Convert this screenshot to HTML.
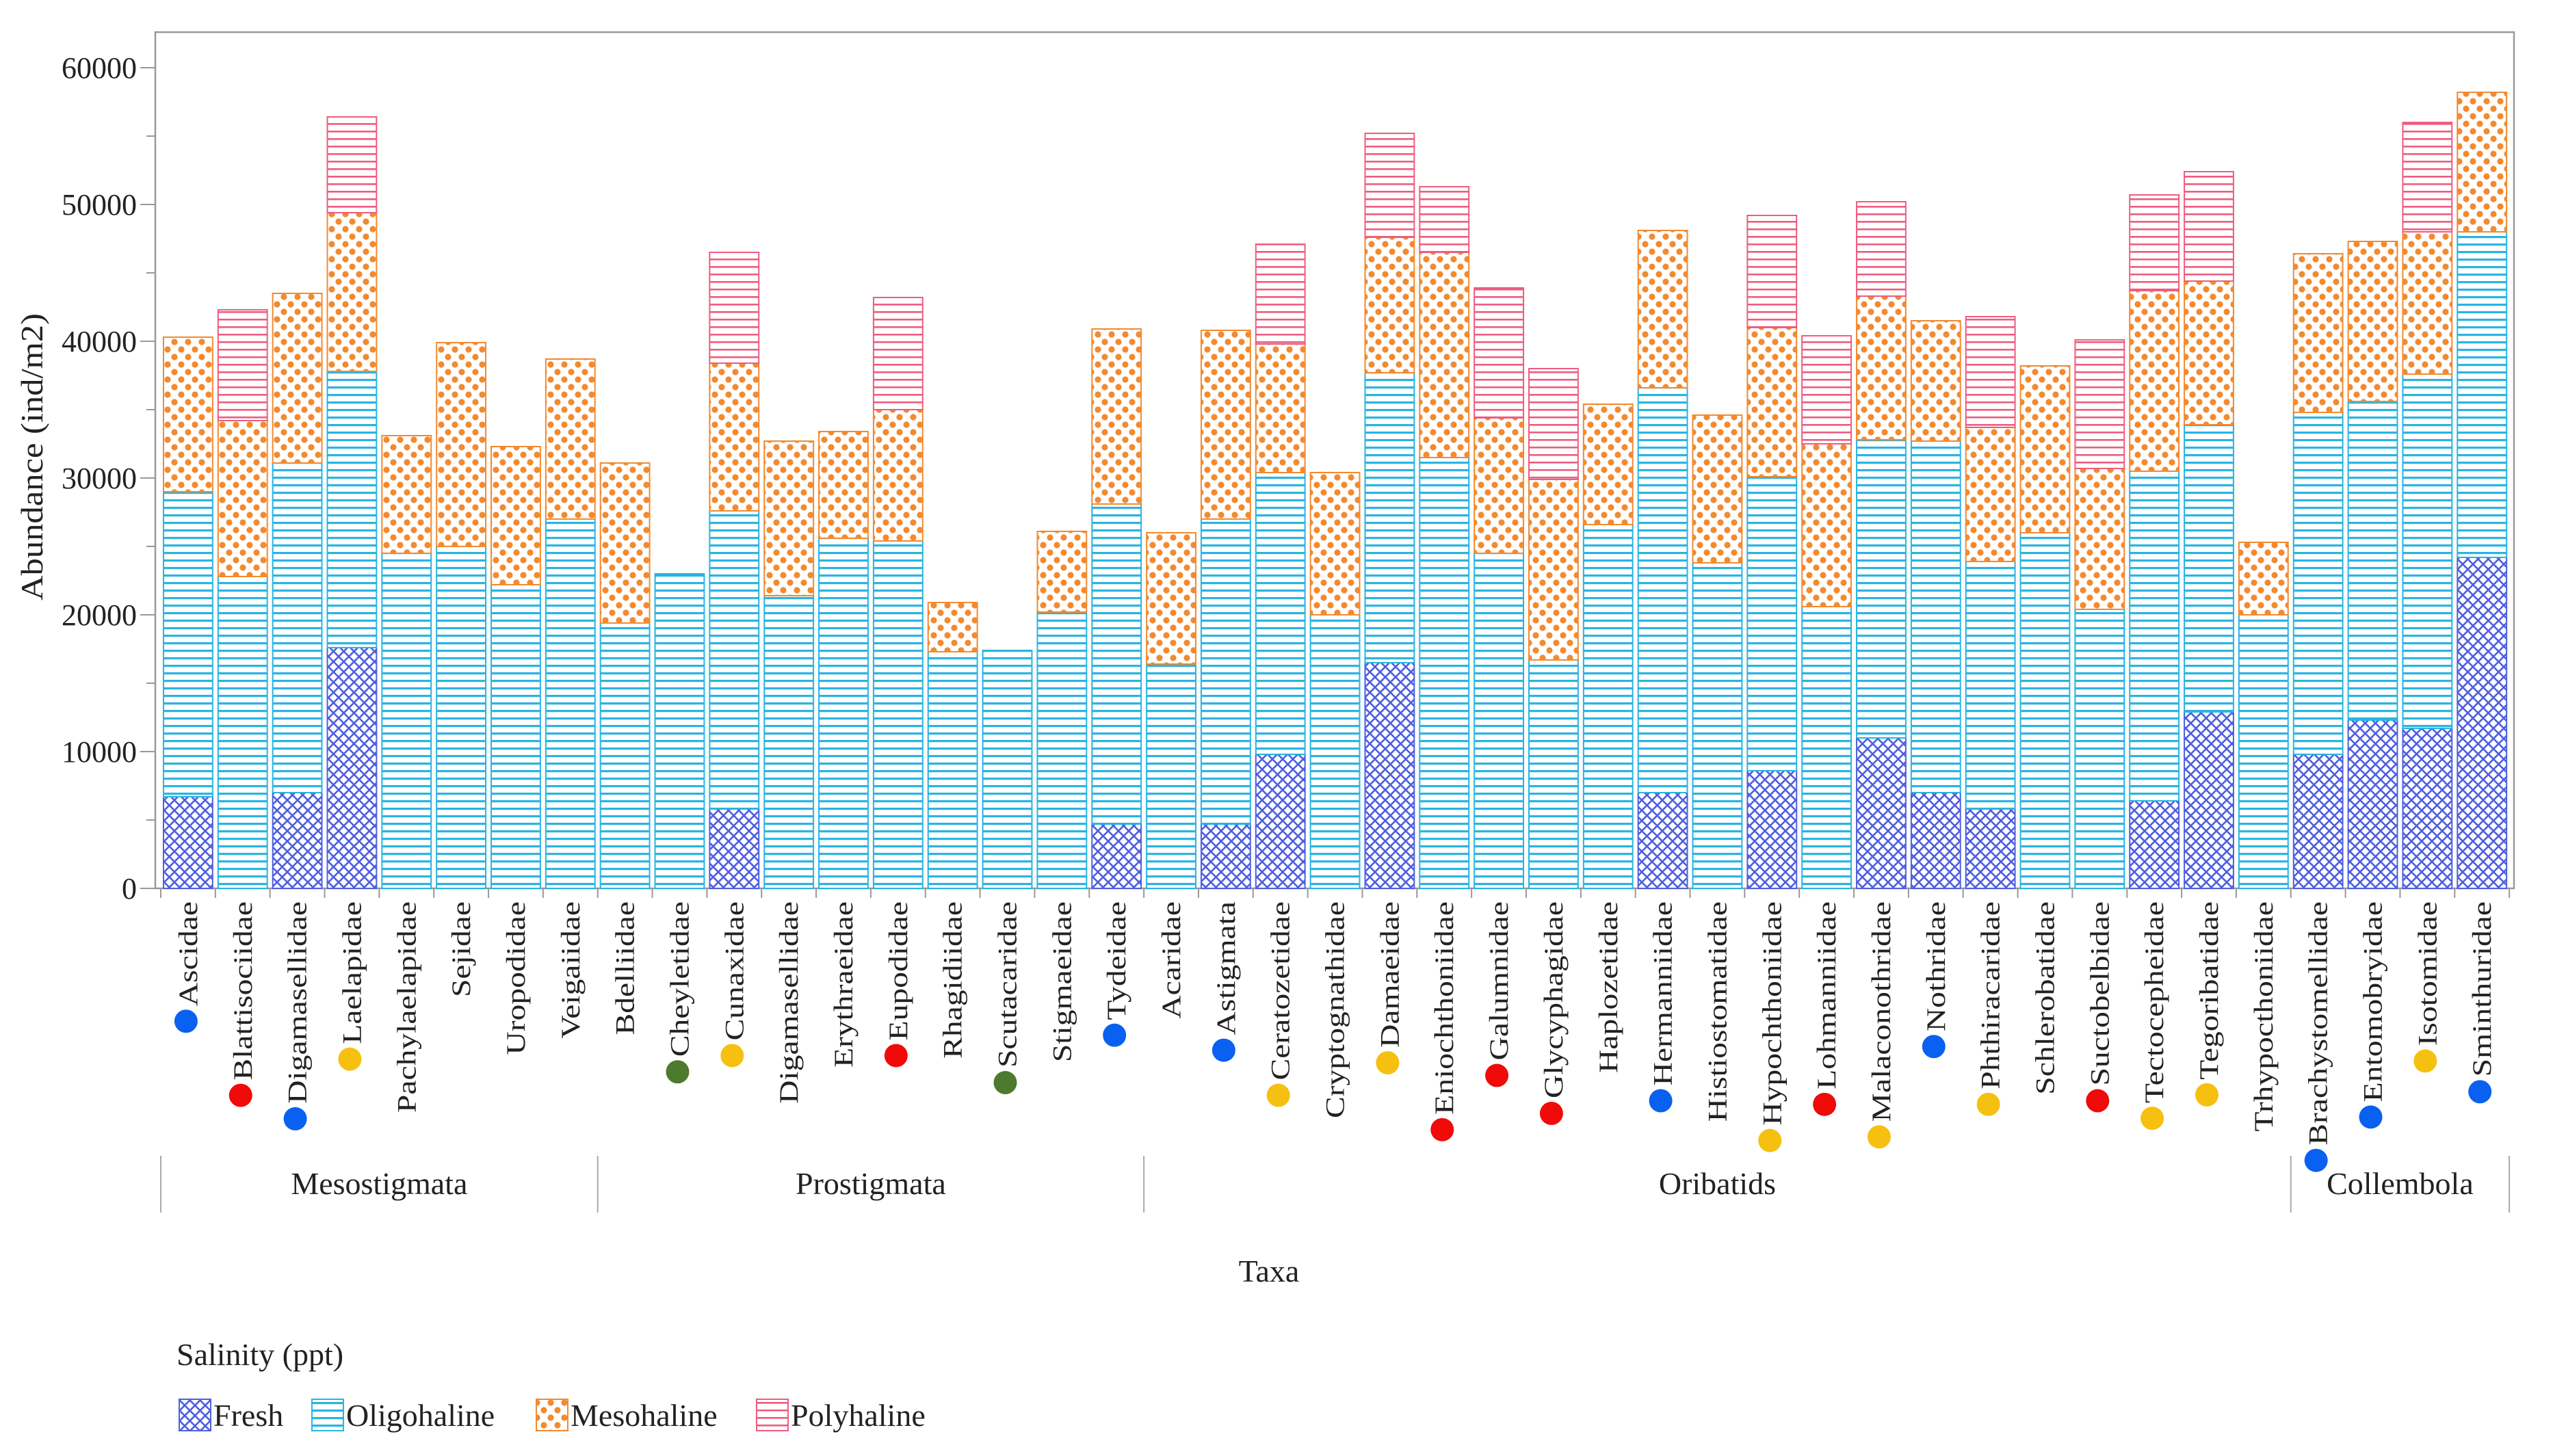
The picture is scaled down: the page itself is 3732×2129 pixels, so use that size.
<!DOCTYPE html>
<html><head><meta charset="utf-8"><style>
html,body{margin:0;padding:0;background:#fff;}
svg{display:block;}
text{font-family:"Liberation Serif",serif;fill:#222;}
</style></head><body>
<svg id="chart" width="3732" height="2129" viewBox="0 0 3732 2129" xmlns="http://www.w3.org/2000/svg">
<defs>
<pattern id="pFresh" patternUnits="userSpaceOnUse" width="15" height="15">
<rect width="15" height="15" fill="#fff"/>
<path d="M0,0 L15,15 M15,0 L0,15" stroke="#4f5fe0" stroke-width="2.6"/>
</pattern>
<pattern id="pOligo" patternUnits="userSpaceOnUse" width="11" height="11">
<rect width="11" height="11" fill="#fff"/>
<rect y="4" width="11" height="3.2" fill="#2ab4e2"/>
</pattern>
<pattern id="pMeso" patternUnits="userSpaceOnUse" width="20" height="22">
<rect width="20" height="22" fill="#fff"/>
<circle cx="5" cy="5" r="4.6" fill="#f28a30"/>
<circle cx="15" cy="16" r="4.6" fill="#f28a30"/>
</pattern>
<pattern id="pPoly" patternUnits="userSpaceOnUse" width="11" height="11">
<rect width="11" height="11" fill="#fff"/>
<rect y="4" width="11" height="2.6" fill="#ee5c80"/>
</pattern>
</defs>
<g id="plot"></g>
</svg>
<script>
const categories=["Ascidae","Blattisociidae","Digamasellidae","Laelapidae","Pachylaelapidae","Sejidae","Uropodidae","Veigaiidae","Bdelliidae","Cheyletidae","Cunaxidae","Digamasellidae","Erythraeidae","Eupodidae","Rhagidiidae","Scutacaridae","Stigmaeidae","Tydeidae","Acaridae","Astigmata","Ceratozetidae","Cryptognathidae","Damaeidae","Eniochthoniidae","Galumnidae","Glycyphagidae","Haplozetidae","Hermanniidae","Histiostomatidae","Hypochthoniidae","Lohmanniidae","Malaconothridae","Nothridae","Phthiracaridae","Schlerobatidae","Suctobelbidae","Tectocepheidae","Tegoribatidae","Trhypocthoniidae","Brachystomellidae","Entomobryidae","Isotomidae","Sminthuridae"];
const fresh=[6700,0,7000,17600,0,0,0,0,0,0,5800,0,0,0,0,0,0,4700,0,4700,9800,0,16500,0,0,0,0,7000,0,8600,0,11000,7000,5800,0,0,6400,12900,0,9800,12300,11700,24200];
const oligohaline=[22300,22800,24100,20200,24500,25000,22200,27000,19400,23000,21800,21400,25600,25400,17300,17400,20200,23400,16400,22300,20600,20000,21200,31500,24500,16700,26600,29600,23800,21500,20600,21800,25700,18100,26000,20400,24100,21000,20000,25000,23300,25900,23800];
const mesohaline=[11300,11400,12400,11600,8600,14900,10100,11700,11700,0,10800,11300,7800,9600,3600,0,5900,12800,9600,13800,9400,10400,9900,15000,9900,13200,8800,11500,10800,10900,11900,10500,8800,9800,12200,10300,13200,10500,5300,11600,11700,10400,10200];
const polyhaline=[0,8100,0,7000,0,0,0,0,0,0,8100,0,0,8200,0,0,0,0,0,0,7300,0,7600,4800,9500,8100,0,0,0,8200,7900,6900,0,8100,0,9400,7000,8000,0,0,0,8000,0];
const indicatorColor=["blue","red","blue","yellow","","","","","","green","yellow","","","red","","green","","blue","","blue","yellow","","yellow","red","red","red","","blue","","yellow","red","yellow","blue","yellow","","red","yellow","yellow","","blue","blue","yellow","blue"];
const groupNames=["Mesostigmata","Prostigmata","Oribatids","Collembola"];
const groupStart=[0,8,18,39];
const groupEnd=[8,18,39,43];
const yTicks=[0,10000,20000,30000,40000,50000,60000];

const svg=document.getElementById('plot');
const NS='http://www.w3.org/2000/svg';
const X0=235,SLOT=79.84,Y0=1299,YPX=1200/60000;
const y=v=>Y0-v*YPX;
const xs=i=>X0+i*SLOT;
function mk(tag,attrs,parent){const e=document.createElementNS(NS,tag);for(const k in attrs)e.setAttribute(k,attrs[k]);(parent||svg).appendChild(e);return e;}
const dotCol={blue:"#0a60f0",red:"#f00a0a",yellow:"#f5c010",green:"#4d7a2e"};

const fr=mk('rect',{x:227,y:47,width:3448,height:1252,fill:'none',stroke:'#999','stroke-width':2.5});



for(let v=0;v<=60000;v+=5000){
  const t=mk('line',{x1:v%10000?214:205,x2:227,y1:y(v),y2:y(v),stroke:'#999','stroke-width':2});
  
  
}
yTicks.forEach(v=>{
  const t=mk('text',{x:200,y:y(v)+15,'text-anchor':'end','font-size':44});
  t.textContent=v;
  
  
});
const yt=mk('text',{x:0,y:0,'text-anchor':'middle','font-size':46,transform:'translate(62,668) rotate(-90) scale(1.1,1)'});
yt.textContent='Abundance (ind/m2)';



const series=[[fresh,'pFresh','#4f5fe0','fresh'],[oligohaline,'pOligo','#2ab4e2','oligohaline'],[mesohaline,'pMeso','#f28a30','mesohaline'],[polyhaline,'pPoly','#ee5c80','polyhaline']];
const LS=1.22;
categories.forEach((c,i)=>{
  let base=0;
  series.forEach(s=>{
    const v=s[0][i];
    if(v>0){
      const r=mk('rect',{x:xs(i)+4,y:y(base+v),width:SLOT-8,height:v*YPX,fill:'url(#'+s[1]+')',stroke:s[2],'stroke-width':2});
      
      
    }
    base+=v;
  });
  const tk=mk('line',{x1:xs(i),x2:xs(i),y1:Y0,y2:Y0+14,stroke:'#999','stroke-width':2});
  
  
  const cx=xs(i)+SLOT/2;
  const lb=mk('text',{x:0,y:0,'text-anchor':'end','font-size':39,transform:'translate('+(cx+13)+',1318) rotate(-90) scale('+LS+',1)'});
  lb.textContent=c;
  
  
  if(indicatorColor[i]){
    const len=lb.getComputedTextLength()*LS;
    const d=mk('circle',{cx:cx-3,cy:1318+len+22,r:17,fill:dotCol[indicatorColor[i]]});
    
    
  }
});
const tkl=mk('line',{x1:xs(43),x2:xs(43),y1:Y0,y2:Y0+14,stroke:'#999','stroke-width':2});



const sepIdx=[0,8,18,39,43];
sepIdx.forEach(k=>{
  const l=mk('line',{x1:xs(k),x2:xs(k),y1:1690,y2:1773,stroke:'#aaa','stroke-width':2});
  
  
});
groupNames.forEach((g,k)=>{
  const t=mk('text',{x:(xs(groupStart[k])+xs(groupEnd[k]))/2,y:1746,'text-anchor':'middle','font-size':46});
  t.textContent=g;
  
  
});
const xt=mk('text',{x:1855,y:1874,'text-anchor':'middle','font-size':46});
xt.textContent='Taxa';



const lt=mk('text',{x:258,y:1996,'font-size':46});
lt.textContent='Salinity (ppt)';


const legX=[262,456,784,1106];
const legN=['Fresh','Oligohaline','Mesohaline','Polyhaline'];
series.forEach((s,k)=>{
  const r=mk('rect',{x:legX[k],y:2046,width:46,height:46,fill:'url(#'+s[1]+')',stroke:s[2],'stroke-width':2});
  
  
  const t=mk('text',{x:legX[k]+50,y:2085,'font-size':46});
  t.textContent=legN[k];
  
  
});
</script>
</body></html>
